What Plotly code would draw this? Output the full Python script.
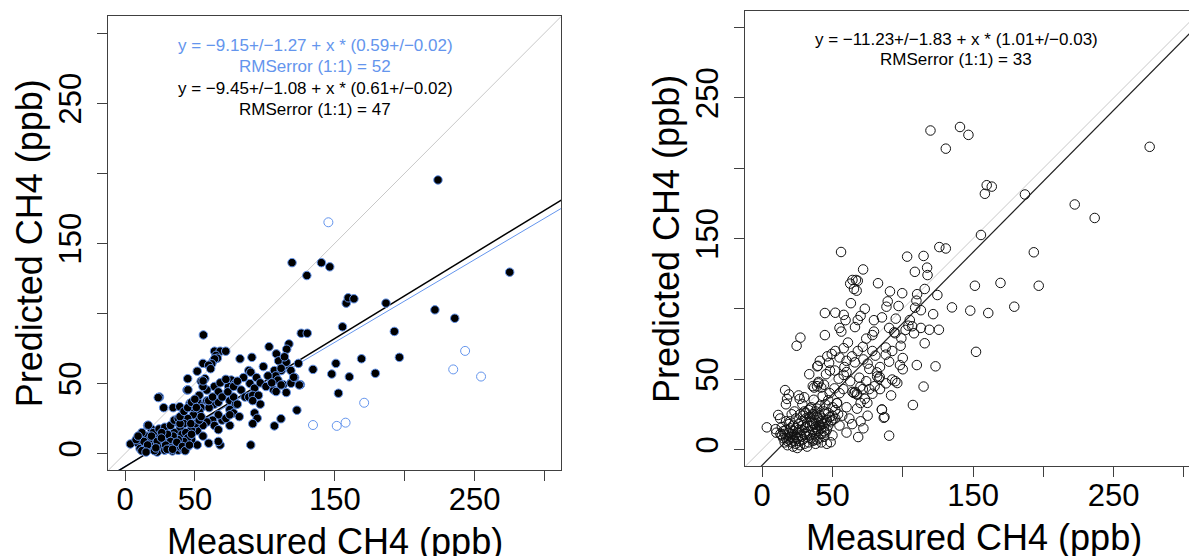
import plotly.graph_objects as go

# ---------------- DATA ----------------
# Left panel: filled black points (subset used for black fit)
left_black_x = [223.8, 119.4, 140.4, 146.4, 130, 275.1, 158.2, 159.6, 163.7, 186.6, 221.6, 235.8, 155.5, 192.6, 56, 126, 130.3,
                103, 117.2, 115.6, 108.2, 196.2, 169.1, 150.8, 109.8, 115.3, 124, 134.4, 147.8, 160.4, 179, 152.6, 122.9, 111.5,
                106.8, 89.9, 64, 68, 72, 65, 66, 63, 64, 62, 82.2, 90.7, 98.9, 88.5, 89.9, 84.7, 76, 78.7, 74, 89.3, 92.6, 44.8,
                51.6, 54.4, 57.1, 44.3, 24.6, 27.6, 34.4, 39.1, 46.4, 53, 58.5, 54.4, 63.9, 66.7, 74.9, 79, 77.6,
                106.8, 111.7, 107.7, 109.3, 106.3, 113.1, 115.3, 118.6, 121.3, 125.4, 118.6, 83, 85.8, 88.5, 91.3, 95.4, 96.7,
                91.3, 92.6, 94.5, 91.3, 80.3, 74.9, 77.6, 81.7, 74.9, 69.4, 66.7, 62.6, 63.9, 66.7, 58.5, 55.7, 51.6, 47.5,
                55.7, 59.8, 68, 66.7, 51.6, 47.5, 44.8, 72.1, 74.9, 60.1, 53, 48.9, 44.8, 42.1, 39.3, 36.6, 35.2, 31.1, 25.7,
                20.2, 14.8, 12, 16.1, 18.9, 3.8, 9.3, 10.7, 14.8, 18.9, 23, 28.4, 33.9, 38, 40.7, 35.2, 31.1, 27, 23, 20.2, 24.3,
                28.4, 32.5, 35.2, 38, 39.3, 40.7, 43.4, 44.8, 42.1, 38, 34.4, 30.3, 26.2, 17.5, 13.4, 21.6, 16.1, 7.9, 9.3, 18.9,
                23, 32.5, 36.6, 39.3, 47.5, 50.3, 53, 54.4, 47, 48.9, 51.6, 39.3, 42.1, 44.8, 47.5, 59.8, 63.9, 68, 72.1, 66.7,
                69.4, 73.5, 77.6, 80.3, 58.5, 62.6, 53, 55.7, 55.7, 59.8, 61.2, 94, 96.7, 102.2, 100.8, 104.9, 114, 111.6, 108,
                111.6, 118.7, 124.6, 120.6, 16.6, 23.7, 45, 49.9, 51, 55.8, 29, 33, 37, 41, 21, 26, 30, 12, 15, 22, 34, 43, 46]
left_black_y = [195.2, 136.2, 136.2, 133.2, 127, 129.4, 107.3, 111.1, 110.4, 107.3, 102.5, 96.5, 90.4, 87.1, 84.6, 85.8, 85.8,
                76.2, 78.2, 74.4, 71.1, 68.6, 67.6, 64.3, 66.1, 65.1, 64.3, 60, 56.7, 54.7, 57.2, 43, 30.9, 24.8,
                19.7, 6.1, 73, 73, 73, 70, 68, 66, 67.5, 64, 67.6, 68.6, 62, 59.2, 58, 54.2, 52.4, 49.9, 47.8, 49.9, 46.6, 53.4,
                58.7, 51.6, 53.4, 45.3, 40.3, 32.7, 32.7, 33.4, 35.7, 35.7, 37.7, 32.7, 35.2, 36.5, 37.7, 35.2, 40.3,
                59.2, 59.2, 55.4, 52.4, 45.3, 49.1, 43.5, 50.4, 54.2, 49.1, 59.2, 45.3, 40.3, 40.3, 41.5, 41.5, 35.2,
                37.7, 28.9, 25.1, 21.3, 35.2, 31.4, 28.9, 26.3, 20, 23.8, 27.6, 23.8, 20, 17, 22.5, 20, 16.2, 17.5,
                12.4, 7.3, 6.1, 8.6, 6.1, 9.9, 4.8, 25, 27.6, 32.7, 30.1, 27.6, 25, 21.3, 17.5, 22.5, 14.9, 9.9, 6.1,
                8.6, 12.4, 14.9, 20, 17.5, 6.8, 7.3, 3.5, 4.8, 3.5, 1, 2.3, 1.8, 2.3, 3.5, 6.1, 4.8, 9.9, 12.4, 14.9, 17.5,
                18.7, 20, 23.8, 25, 21.3, 13.7, 14.9, 11.1, 8.6, 9.9, 12.4, 13.7, 14.9, 9.9, 8.6, 6.1, 6.1, 9.9, 12.4, 12.4,
                8.6, 8.6, 7.3, 4.8, 13.7, 21.3, 23.8, 26.3, 21.3, 32.7, 37.7, 26.3, 30.1, 32.7, 36.5, 37.7, 47.8, 50.4, 52.9, 44,
                40.3, 44, 47.8, 51.6, 45.3, 40.3, 41.5, 47.8, 64.3, 63, 60.5, 54.2, 50.4, 55.4, 47.8, 50.4, 69, 60.8, 44.2,
                48.9, 50.1, 48.9, 54.4, 20.2, 39.9, 45.4, 38.7, 32.8, 51.8, 6, 4, 8, 5, 2, 11, 3, 2, 1, 4, 3, 2, 6]
# Left panel: open blue points (only in the blue fit)
left_blue_x = [145.4, 134.4, 151.4, 157.7, 171, 243.2, 234.7, 254.6]
left_blue_y = [165, 20.3, 19.7, 22, 36.2, 73.2, 60, 54.9]

# Right panel: all points (open circles)
right_x = [119.7, 140.7, 146.7, 130.6, 275.6, 159.7, 163.3, 158.4, 186.9, 222.3, 236.5, 155.6, 126, 130.6, 56.1, 193.2, 103.1,
           114.8, 71.8, 117.3, 108.6, 117.6, 64.2, 62.6, 66.7, 68, 65.3, 67.2, 82.4, 90.9, 99.6, 110.2, 109.7, 115.6, 124.6,
           151.3, 169.5, 196.7, 63.1, 89.3, 88.4, 108.8, 112.9, 121.6, 135, 148, 160.8, 179.3, 44.6, 52, 58, 59.3, 85.2, 79.5,
           55, 56.3, 44.6, 24.5, 27.2, 74, 78.4, 79.5, 90.3, 93.9, 94.7, 106.7, 112.9, 118.9, 125.7, 108, 115.6, 71.6, 87.9,
           92.5, 98.5, 78.4, 80.5, 152.1, 46.3, 49.5, 47.6, 55, 63.9, 65.9, 58.5, 83.8, 90.3, 87.9, 123.3, 33.5, 39.2, 45.4,
           48.2, 51.7, 54.4, 51.4, 57.7, 62.6, 69.1, 74, 76.2, 81.6, 83, 92.5, 94.7, 96.1, 91.7, 76.2, 71.6, 69.9, 83.8, 78.4,
           114.8, 107.2, 64.2, 67.2, 66.1, 53.1, 67.5, 74.8, 85.2, 86.5, 90.3, 68.3, 48.7, 3.3, 10.1, 9.5, 12.8, 11.4, 16.9,
           17.7, 19, 16.3, 25.9, 26.7, 28.6, 29.9,
           39.6, 36.7, 53.3, 65.2, 67.6, 81.8, 83.6, 85.1, 87, 42, 44, 37, 36, 40, 58, 60, 34, 38, 31, 45, 50, 55, 60, 57, 62,
           64, 70, 72, 75, 52, 47, 43, 48, 55, 60, 50, 45, 70, 73, 80, 88, 58, 61, 52, 41, 60, 68, 72, 75, 98, 100, 102, 104,
           66, 68, 70, 73, 97, 99, 100, 110, 105, 95, 40, 39,
           14, 15, 15, 16, 16, 17, 17, 18, 18, 18, 19, 19, 20, 20, 21, 21, 22, 22, 22, 23, 23, 24, 24, 25, 25, 25, 26, 26, 27,
           27, 28, 28, 29, 29, 30, 30, 31, 31, 32, 32, 33, 33, 34, 34, 35, 35, 36, 36, 37, 37, 38, 38, 39, 39, 40, 40, 41, 41,
           42, 42, 43, 43, 44, 44, 45, 46, 47, 48, 36, 38, 40, 42, 44, 46, 30, 33, 27, 24, 23, 20, 21, 35, 39, 45, 41, 26, 28,
           32, 34, 37, 38, 19, 17, 14, 13, 24, 22, 31, 29, 36, 40, 42, 39, 44, 46, 47, 49, 50, 52, 54, 50]
right_y = [226.8, 229.3, 223.7, 213.9, 215.2, 187.9, 186.9, 181.8, 181.3, 174.2, 164.6, 152.5, 143.9, 142.9, 140.4, 140.2, 137.1,
           137.6, 128, 129.3, 126.3, 124, 120.5, 117.9, 120.5, 119.9, 114.1, 112.9, 118.2, 112.4, 111.1, 110.4, 105.8, 114.1, 109.8,
           116.4, 118.4, 116.4, 104, 105.3, 101.5, 100.8, 99, 96.2, 101, 98.7, 97, 101.5, 97, 97.2, 95.7, 91.9, 93.9, 91.9,
           86.4, 83.8, 81.3, 73.7, 79.5, 78.8, 81.3, 83.8, 86.4, 83.3, 82.6, 87.6, 86.4, 85.1, 85.1, 82.6, 75.5, 73, 72.5,
           70, 73.7, 70, 66.7, 69.4, 66.2, 67.9, 61.6, 65.4, 66.2, 61.9, 58.6, 58.6, 62.4, 67.4, 59.1, 53.5, 59.1, 53.5,
           56.1, 56.1, 50.3, 43.4, 42.9, 48.5, 51, 48.5, 57.3, 54.8, 50.3, 49.7, 48.5, 47.2, 38.4, 42.9, 42.9, 44.7, 42.9, 39.6,
           44.7, 31.6, 40.9, 39.6, 40.9, 32.8, 29, 33.1, 28.3, 22.5, 9.8, 8.8, 5.1, 15.7, 11.9, 14.4, 22, 24.5, 32.1,
           35.9, 39.1, 42.2, 38.4, 35.9, 32.1, 37.1,
           59.5, 35.3, 33, 40.1, 38.9, 51.9, 51.5, 28.4, 23, 44, 46, 44, 45, 48, 53, 55, 29, 27, 26, 25, 21, 17, 12, 24, 22,
           18, 20, 15, 24, 28, 35, 38, 40, 40, 30, 10, 12, 33, 36, 45, 47, 72, 76, 70, 63, 63, 70, 64, 61, 60, 65, 85, 88,
           87, 92, 95, 100, 102, 79, 57, 60, 92, 93, 47, 45,
           10, 8, 13, 5, 11, 8, 14, 6, 10, 3, 12, 7, 9, 15, 5, 11, 8, 2, 13, 6, 10, 4, 15, 8, 12, 1, 6, 18, 10,
           3, 14, 20, 7, 24, 11, 4, 16, 22, 9, 19, 5, 13, 17, 23, 8, 20, 14, 25, 18, 11, 21, 16, 15, 23, 19, 13, 17, 24,
           20, 15, 18, 22, 16, 27, 19, 21, 17, 23, 6, 4, 8, 5, 9, 4, 27, 28, 25, 22, 27, 20, 25, 30, 29, 32, 31, 14, 9,
           2, 10, 7, 12, 18, 20, 16, 11, 9, 17, 12, 17, 19, 22, 11, 7, 13, 14, 26, 20, 24, 22, 25, 30]

# Fit coefficients (intercept, slope) as printed on the chart
left_blue_fit = (-9.15, 0.59)
left_black_fit = (-9.45, 0.61)
right_fit = (-11.23, 1.01)

left_labels = ["y = −9.15+/−1.27 + x * (0.59+/−0.02)", "RMSerror (1:1) = 52",
               "y = −9.45+/−1.08 + x * (0.61+/−0.02)", "RMSerror (1:1) = 47"]
right_labels = ["y = −11.23+/−1.83 + x * (1.01+/−0.03)", "RMSerror (1:1) = 33"]

tick_vals = [0, 50, 100, 150, 200, 250, 300]
tick_text = ["0", "50", "", "150", "", "250", ""]
x_title = "Measured CH4 (ppb)"
y_title = "Predicted CH4 (ppb)"

# ---------------- FIGURE ----------------
W, H = 1189, 556
FONT = "Liberation Sans, Arial, Helvetica, sans-serif"
BLUE = "#6495ED"
LINEGREY = "#c8c8c8"
AXC = "#404040"

fig = go.Figure()
line_x = [-12, 312]

# Left panel
fig.add_trace(go.Scatter(x=line_x, y=line_x, mode="lines", line=dict(color=LINEGREY, width=1),
                         xaxis="x", yaxis="y", showlegend=False, hoverinfo="skip"))
fig.add_trace(go.Scatter(x=line_x, y=[left_blue_fit[0] + left_blue_fit[1] * v for v in line_x], mode="lines",
                         line=dict(color=BLUE, width=1), xaxis="x", yaxis="y", showlegend=False))
fig.add_trace(go.Scatter(x=line_x, y=[left_black_fit[0] + left_black_fit[1] * v for v in line_x], mode="lines",
                         line=dict(color="black", width=1.5), xaxis="x", yaxis="y", showlegend=False))
fig.add_trace(go.Scatter(x=left_blue_x, y=left_blue_y, mode="markers",
                         marker=dict(symbol="circle-open", size=9, color=BLUE, line=dict(width=1, color=BLUE)),
                         xaxis="x", yaxis="y", showlegend=False))
fig.add_trace(go.Scatter(x=left_black_x, y=left_black_y, mode="markers",
                         marker=dict(symbol="circle", size=8.5, color="black", line=dict(width=1, color=BLUE)),
                         xaxis="x", yaxis="y", showlegend=False))

# Right panel
fig.add_trace(go.Scatter(x=line_x, y=line_x, mode="lines", line=dict(color=LINEGREY, width=1),
                         xaxis="x2", yaxis="y2", showlegend=False, hoverinfo="skip"))
fig.add_trace(go.Scatter(x=line_x, y=[right_fit[0] + right_fit[1] * v for v in line_x], mode="lines",
                         line=dict(color="#202020", width=1.2), xaxis="x2", yaxis="y2", showlegend=False))
fig.add_trace(go.Scatter(x=right_x, y=right_y, mode="markers",
                         marker=dict(symbol="circle-open", size=9.5, color="#111111", line=dict(width=1, color="#111111")),
                         xaxis="x2", yaxis="y2", showlegend=False))


def xax(domain, rng, mirror):
    return dict(domain=domain, range=rng, showgrid=False, zeroline=False, showline=True, linecolor=AXC,
                linewidth=1.3, mirror=mirror, ticks="outside", ticklen=10, tickwidth=1.3, tickcolor=AXC,
                tickmode="array", tickvals=tick_vals, ticktext=tick_text,
                tickfont=dict(family=FONT, size=31, color="black"), fixedrange=True)


lx0, lx1, ly0, ly1 = 108.3, 561.3, 16.3, 470.3
rx0, rx1, ry0, ry1 = 745.3, 1189, 10.7, 466.3

xa1 = xax([lx0 / W, lx1 / W], [-12, 312], True)
xa1.update(anchor="y", ticklabelstandoff=-9)
ya1 = xax([(H - ly1) / H, (H - ly0) / H], [-12, 312], True)
ya1.update(anchor="x", tickangle=-90, ticklabelstandoff=4)
r_right = -12 + (rx1 - rx0) / 1.406
xa2 = xax([rx0 / W, 1.0], [-12, r_right], True)
xa2.update(anchor="y2", ticklabelstandoff=-9)
ya2 = xax([(H - ry1) / H, (H - ry0) / H], [-12, 312], False)
ya2.update(anchor="x2", tickangle=-90, ticklabelstandoff=4)

annotations = []
# equation text
for i, (txt, yc) in enumerate(zip(left_labels, [45, 66, 88, 109])):
    annotations.append(dict(text=txt, x=315 / W, y=(H - yc) / H, xref="paper", yref="paper", showarrow=False,
                            xanchor="center", yanchor="middle",
                            font=dict(family=FONT, size=17, color=BLUE if i < 2 else "black")))
for txt, yc in zip(right_labels, [39, 59]):
    annotations.append(dict(text=txt, x=956 / W, y=(H - yc) / H, xref="paper", yref="paper", showarrow=False,
                            xanchor="center", yanchor="middle", font=dict(family=FONT, size=17, color="black")))
# axis titles
annotations.append(dict(text=x_title, x=(lx0 + lx1) / 2 / W, y=(H - 541) / H, xref="paper", yref="paper",
                        showarrow=False, xanchor="center", yanchor="middle",
                        font=dict(family=FONT, size=36, color="black")))
annotations.append(dict(text=x_title, x=974 / W, y=(H - 537) / H, xref="paper", yref="paper",
                        showarrow=False, xanchor="center", yanchor="middle",
                        font=dict(family=FONT, size=36, color="black")))
annotations.append(dict(text=y_title, x=29 / W, y=(H - (ly0 + ly1) / 2) / H, xref="paper", yref="paper",
                        showarrow=False, xanchor="center", yanchor="middle", textangle=-90,
                        font=dict(family=FONT, size=36, color="black")))
annotations.append(dict(text=y_title, x=666 / W, y=(H - 239) / H, xref="paper", yref="paper",
                        showarrow=False, xanchor="center", yanchor="middle", textangle=-90,
                        font=dict(family=FONT, size=36, color="black")))

fig.update_layout(width=W, height=H, margin=dict(l=0, r=0, t=0, b=0), paper_bgcolor="white",
                  plot_bgcolor="white", xaxis=xa1, yaxis=ya1, xaxis2=xa2, yaxis2=ya2,
                  annotations=annotations, showlegend=False)

fig.write_html("out.html", config={"displayModeBar": False})
